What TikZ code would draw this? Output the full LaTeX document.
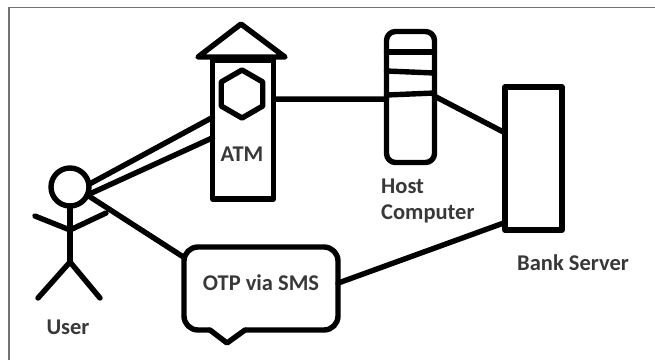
\documentclass[tikz,border=0pt]{standalone}
\usepackage{fontspec}
\setmainfont{Carlito}
\usetikzlibrary{shapes.geometric}
\tikzset{
	sketch/.style={line width=5.4pt,line join=round,line cap=round},
	box/.style={draw,sketch,rectangle,outer sep=0pt,inner sep=0pt},
	caption/.style={font=\bfseries\fontsize{22.5}{26}\selectfont,text=black!78,inner sep=0pt}
}

\begin{document}
\begin{tikzpicture}[x=1pt,y=-1pt]
		\useasboundingbox (0,0) rectangle (655,360);
		\draw[black!55,line width=1.6pt] (9,360) to (9,7.5) to (655,7.5);
		% atm
		\node[box,minimum width=61pt,minimum height=141pt] (atm) at (243,128.5) {};
		\coordinate (rooftop) at (241,24);
		\coordinate (roofleft) at (198,57);
		\coordinate (roofright) at (285,57);
		\draw[sketch] (rooftop) to (roofleft) to (roofright) to cycle;
		\draw[line width=6pt] (212,60) to (274,60);
		\node[draw,sketch,regular polygon,regular polygon sides=6,shape border rotate=30,minimum size=48pt,inner sep=0pt,outer sep=0pt] (screen) at (242,94) {};
		\node[caption] (atmlabel) at (242,154) {ATM};
		% host
		\node[box,rounded corners=9pt,minimum width=48pt,minimum height=131pt] (host) at (410.5,97) {};
		\draw[sketch] (host.west |- 0,52) to (host.east |- 0,52);
		\draw[sketch] (host.west |- 0,71) to (host.east |- 0,73);
		\draw[sketch] (host.west |- 0,95) to (host.east |- 0,93);
		\node[caption,align=left,anchor=north west] (hostlabel) at (381,179) {Host\\Computer};
		% server
		\node[box,minimum width=57pt,minimum height=143pt] (server) at (533.5,158.5) {};
		\node[caption,anchor=west] (serverlabel) at (517,263) {Bank Server};
		% otp
		\node[box,rounded corners=14pt,minimum width=154pt,minimum height=83pt] (otp) at (261,288.5) {};
		\node[caption] (otplabel) at (261,283) {OTP via SMS};
		\coordinate (tailleft) at (210,330);
		\coordinate (tailtip) at (227,343);
		\coordinate (tailright) at (245,330);
		\draw[white,line width=6pt] (tailleft) to (tailright);
		\draw[sketch] (tailleft) to (tailtip) to (tailright);
		% user
		\node[draw,sketch,circle,minimum size=38pt,inner sep=0pt,outer sep=0pt] (head) at (70,187) {};
		\coordinate (hip) at (70,262);
		\coordinate (neck) at (70,230);
		\coordinate (handleft) at (35,216);
		\coordinate (handright) at (106,213);
		\coordinate (footleft) at (38,298);
		\coordinate (footright) at (100,298);
		\draw[sketch] (head.south) to (hip);
		\draw[sketch] (handleft) to (neck) to (handright);
		\draw[sketch] (footleft) to (hip) to (footright);
		\node[caption] (userlabel) at (68,327) {User};
		% links
		\draw[sketch] (head.8) to (atm.160);
		\draw[sketch] (head.335) to (atm.197);
		\draw[sketch] (head.335) to (otp.158);
		\draw[sketch] (atm.44) to (host.185);
		\draw[sketch] (host.2) to (server.138);
		\draw[sketch] (server.246) to (otp.4);
	\end{tikzpicture}
\end{document}
